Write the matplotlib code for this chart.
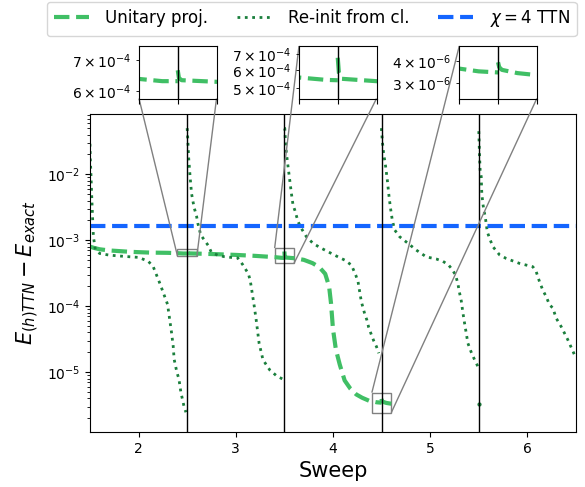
import numpy as np
import matplotlib
matplotlib.use("Agg")
import matplotlib.pyplot as plt
from mpl_toolkits.axes_grid1.inset_locator import mark_inset

# Unitary projection, one segment per sweep
unit_x = [
    [1.5, 1.55, 1.6, 1.7, 1.77, 1.9, 2.0, 2.12, 2.3, 2.4, 2.46, 2.5],
    [2.5, 2.503, 2.51, 2.6, 2.8, 3.0, 3.2, 3.4, 3.47, 3.5],
    [3.5, 3.503, 3.51, 3.6, 3.7, 3.79, 3.86, 3.92, 3.96, 3.98, 4.0, 4.03,
     4.07, 4.12, 4.18, 4.24, 4.3, 4.37, 4.4, 4.45, 4.5],
    [4.5, 4.503, 4.51, 4.55, 4.6],
]
unit_y = [
    [8.0e-4, 7.6e-4, 7.3e-4, 7.0e-4, 6.9e-4, 6.7e-4, 6.6e-4, 6.5e-4, 6.45e-4, 6.37e-4, 6.3e-4, 6.3e-4],
    [6.65e-4, 6.4e-4, 6.33e-4, 6.28e-4, 6.15e-4, 6.0e-4, 5.8e-4, 5.55e-4, 5.42e-4, 5.4e-4],
    [6.76e-4, 5.8e-4, 5.48e-4, 5.35e-4, 5.05e-4, 4.5e-4, 3.9e-4, 3.1e-4, 2.0e-4, 1.1e-4, 4.5e-5, 2.2e-5,
     1.3e-5, 7.5e-6, 5.6e-6, 4.6e-6, 4.1e-6, 3.7e-6, 3.63e-6, 3.5e-6, 3.45e-6],
    [3.95e-6, 3.7e-6, 3.57e-6, 3.42e-6, 3.33e-6],
]

# Re-init from classical, one segment per sweep
reinit_x = [
    [1.5, 1.504, 1.511, 1.518, 1.528, 1.535, 1.555, 1.6, 1.7, 1.85, 2.0, 2.1, 2.15, 2.22,
     2.298, 2.339, 2.356, 2.366, 2.394, 2.415, 2.435, 2.466, 2.487],
    [2.5, 2.505, 2.515, 2.53, 2.545, 2.57, 2.597, 2.61, 2.64, 2.72, 2.75, 2.82, 2.88, 2.95,
     3.02, 3.07, 3.13, 3.15, 3.19, 3.21, 3.24, 3.28, 3.35, 3.42, 3.48],
    [3.5, 3.504, 3.511, 3.521, 3.538, 3.555, 3.572, 3.589, 3.607, 3.641, 3.675, 3.727, 3.795,
     3.864, 3.949, 4.052, 4.121, 4.19, 4.234, 4.258, 4.275, 4.292, 4.326, 4.35, 4.367, 4.395,
     4.419, 4.447, 4.471],
    [4.498, 4.508, 4.521, 4.542, 4.559, 4.573, 4.59, 4.61, 4.635, 4.686, 4.771, 4.857, 4.96,
     5.063, 5.131, 5.19, 5.227, 5.261, 5.285, 5.30, 5.32, 5.337, 5.354, 5.371, 5.388, 5.42,
     5.457, 5.491],
    [5.5, 5.508, 5.514, 5.525, 5.531, 5.542, 5.552, 5.566, 5.576, 5.587, 5.611, 5.645, 5.714,
     5.782, 5.919, 6.056, 6.091, 6.125, 6.159, 6.194, 6.228, 6.262, 6.296, 6.348, 6.416, 6.485, 6.5],
]
reinit_y = [
    [2.9e-2, 1.65e-2, 9.2e-3, 4.6e-3, 2.0e-3, 1.16e-3, 7.2e-4, 6.3e-4, 5.95e-4, 5.7e-4, 5.5e-4,
     4.8e-4, 4.0e-4, 2.2e-4, 1.07e-4, 4.0e-5, 2.5e-5, 1.57e-5, 1.0e-5, 7.9e-6, 5.0e-6, 3.1e-6, 2.47e-6],
    [5.0e-2, 3.7e-2, 1.8e-2, 9.2e-3, 5.1e-3, 3.2e-3, 2.3e-3, 1.8e-3, 1.2e-3, 8.2e-4, 6.5e-4,
     5.9e-4, 5.65e-4, 5.5e-4, 5.4e-4, 4.3e-4, 3.1e-4, 2.4e-4, 1.0e-4, 6.2e-5, 2.75e-5, 1.54e-5,
     1.08e-5, 8.8e-6, 7.9e-6],
    [5.0e-2, 4.99e-2, 3.13e-2, 2.08e-2, 1.3e-2, 8.2e-3, 5.15e-3, 3.42e-3, 2.87e-3, 1.91e-3, 1.51e-3,
     1.13e-3, 8.97e-4, 7.8e-4, 6.7e-4, 5.6e-4, 5.0e-4, 4.2e-4, 2.97e-4, 2.35e-4, 1.65e-4, 1.17e-4,
     7.7e-5, 6.1e-5, 4.8e-5, 3.7e-5, 3.0e-5, 2.45e-5, 1.94e-5],
    [5.0e-2, 3.13e-2, 2.08e-2, 1.3e-2, 8.2e-3, 5.15e-3, 3.2e-3, 2.03e-3, 1.43e-3, 1.13e-3, 9.0e-4,
     7.1e-4, 5.6e-4, 5.2e-4, 4.8e-4, 4.2e-4, 3.6e-4, 2.97e-4, 2.2e-4, 1.65e-4, 1.2e-4, 7.9e-5,
     5.5e-5, 3.9e-5, 2.75e-5, 2.05e-5, 1.54e-5, 1.22e-5],
    [4.5e-2, 1.85e-2, 1.16e-2, 9.2e-3, 5.15e-3, 3.6e-3, 2.87e-3, 2.28e-3, 1.8e-3, 1.35e-3, 1.07e-3,
     8.0e-4, 6.0e-4, 5.3e-4, 4.46e-4, 3.97e-4, 3.33e-4, 2.35e-4, 1.75e-4, 1.39e-4, 1.05e-4, 9.4e-5,
     6.6e-5, 4.9e-5, 3.1e-5, 1.83e-5, 1.7e-5],
]
lone_x = [5.5]
lone_y = [3.3e-6]

ttn_chi4 = 1.65e-3
sweep_bounds = [2.5, 3.5, 4.5, 5.5]

# zoom windows: (xmin, xmax, ymin, ymax)
zooms = [(2.4, 2.6, 5.78e-4, 7.5e-4), (3.4, 3.6, 4.5e-4, 7.6e-4), (4.4, 4.6, 2.44e-6, 4.9e-6)]
zoom_locs = [(3, 4), (2, 4), (2, 4)]

c_unit = "#40bf65"
c_reinit = "#1a7f3c"
c_ttn = "#1465ff"


def plot_sweeps():
    fig = plt.figure(figsize=(5.85, 4.87), dpi=100)
    ax = fig.add_axes([0.1538, 0.1129, 0.8308, 0.653])

    for i, (xs, ys) in enumerate(zip(unit_x, unit_y)):
        ax.plot(xs, ys, "--", color=c_unit, lw=3, label="Unitary proj." if i == 0 else None)
    for i, (xs, ys) in enumerate(zip(reinit_x, reinit_y)):
        ax.plot(xs, ys, ":", color=c_reinit, lw=2, label="Re-init from cl." if i == 0 else None)
    ax.plot(lone_x, lone_y, "o", color=c_reinit, ms=2)
    ax.axhline(ttn_chi4, color=c_ttn, ls="--", lw=3, label=r"$\chi=4$ TTN")
    for xb in sweep_bounds:
        ax.axvline(xb, color="black", lw=1)

    ax.set_yscale("log")
    ax.set_xlim(1.5, 6.5)
    ax.set_ylim(1.24e-6, 8.2e-2)
    ax.set_xticks([2, 3, 4, 5, 6])
    ax.tick_params(labelsize=10)
    ax.set_xlabel("Sweep", fontsize=15)
    ax.set_ylabel(r"$E_{(h)TTN} - E_{exact}$", fontsize=15)

    # small zoom panels above the main axes
    lefts = [0.2376, 0.5111, 0.7851]
    for left, (x0, x1, y0, y1), (l1, l2) in zip(lefts, zooms, zoom_locs):
        axin = fig.add_axes([left, 0.7977, 0.1325, 0.1078])
        for xs, ys in zip(unit_x, unit_y):
            axin.plot(xs, ys, "--", color=c_unit, lw=3)
        axin.axvline((x0 + x1) / 2, color="black", lw=1)
        axin.set_yscale("log")
        axin.set_xlim(x0, x1)
        axin.set_ylim(y0, y1)
        axin.set_xticks([x0, (x0 + x1) / 2, x1])
        axin.set_xticklabels([])
        axin.tick_params(labelsize=10)
        mark_inset(ax, axin, loc1=l1, loc2=l2, fc="none", ec="0.5", lw=1)

    fig.legend(loc="upper center", ncol=3, bbox_to_anchor=(0.533, 1.0), fontsize=12,
               handlelength=2.1, handletextpad=1.0, columnspacing=1.7, borderaxespad=0.1)
    fig.savefig("out.png", dpi=100)


if __name__ == "__main__":
    plot_sweeps()
